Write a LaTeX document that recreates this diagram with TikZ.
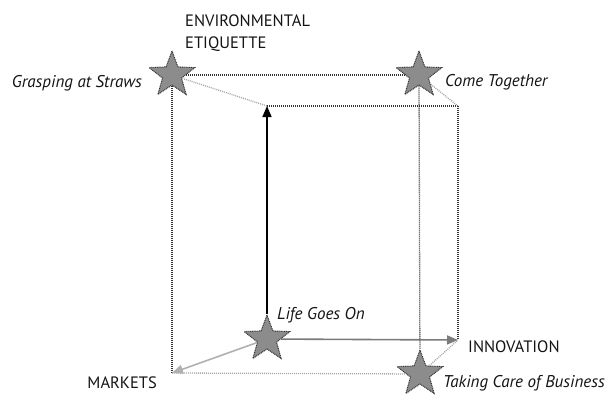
\documentclass[tikz,border=0pt]{standalone}
\usepackage{fontspec}
\setmainfont{PT Sans}
\usetikzlibrary{shapes.geometric,arrows.meta}
\definecolor{starfill}{HTML}{8C8C8C}
\definecolor{darkdot}{HTML}{333333}
\definecolor{lightdot}{HTML}{A8A8A8}
\definecolor{midarrow}{HTML}{7A7A7A}
\definecolor{lightarrow}{HTML}{B0B0B0}
\definecolor{textcol}{HTML}{141414}
\tikzset{
  starnode/.style={star, star points=5, star point ratio=2.4, minimum size=48pt, inner sep=0pt,
    fill=starfill, draw=darkdot, line width=1pt, dash pattern=on 1pt off 0.8pt},
  darkline/.style={draw=darkdot, line width=1.3pt, dash pattern=on 1pt off 1pt},
  lightline/.style={draw=lightdot, line width=1.3pt, dash pattern=on 1pt off 1pt},
  namelbl/.style={font=\fontsize{17}{20}\selectfont\itshape, text=textcol, inner sep=0pt},
  axislbl/.style={font=\fontsize{16.5}{22}\selectfont, text=textcol, inner sep=0pt},
}
\begin{document}
\begin{tikzpicture}[x=1pt,y=-1pt]
\useasboundingbox (0,0) rectangle (607,396);
% stars
\node[starnode] (grasp) at (172,75) {};
\node[starnode] (come) at (419,75) {};
\node[starnode] (life) at (267,339) {};
\node[starnode] (taking) at (420,374) {};
% corners
\coordinate (ftl) at (267,106);
\coordinate (ftr) at (458,106);
\coordinate (fbr) at (458,340);
\coordinate (bl) at (172,373);
% cube edges
\draw[darkline] (grasp) -- (come);
\draw[lightline] (grasp) -- (ftl);
\draw[darkline] (ftl) -- (ftr);
\draw[lightline] (come) -- (ftr);
\draw[darkline] (ftr) -- (fbr);
\draw[darkline] (grasp) -- (bl);
\draw[darkline] (come) -- (taking);
\draw[lightline] (bl) -- (taking);
\draw[lightline] (taking) -- (fbr);
% arrows
\draw[line width=1.6pt, black, -{Triangle[length=11pt,width=9pt]}] (life) -- (ftl);
\draw[line width=1.6pt, midarrow, -{Triangle[length=11pt,width=9pt]}] (life) -- (fbr);
\draw[line width=1.6pt, lightarrow, -{Triangle[length=11pt,width=9pt]}] (life) -- (bl);
% labels
\node[axislbl, anchor=north west, align=left] (env) at (185,15) {ENVIRONMENTAL\\ETIQUETTE};
\node[axislbl, anchor=west] (innov) at (468,347) {INNOVATION};
\node[axislbl, anchor=east] (markets) at (157,383) {MARKETS};
\node[namelbl, anchor=east] (grasplbl) at (142,83) {Grasping at Straws};
\node[namelbl, anchor=west] (comelbl) at (445,82) {Come Together};
\node[namelbl, anchor=west] (lifelbl) at (277,315) {Life Goes On};
\node[namelbl, anchor=west] (takinglbl) at (443,383) {Taking Care of Business};
\end{tikzpicture}
\end{document}
